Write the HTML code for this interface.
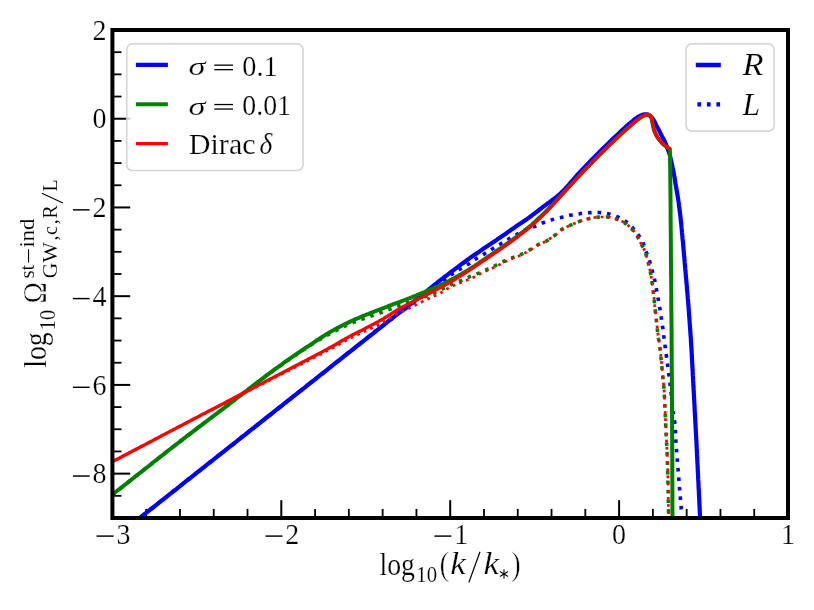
<!DOCTYPE html>
<html><head><meta charset="utf-8"><title>plot</title>
<style>html,body{margin:0;padding:0;background:#fff}svg{display:block}text{font-family:"Liberation Serif",serif;fill:#000;stroke:#fff;stroke-width:0.22px}.s{stroke-width:0.12px}.p{stroke-width:0.6px}.t{filter:grayscale(1)}.om{stroke-width:0.55px}.i{font-style:italic}</style></head><body>
<svg width="814" height="610" viewBox="0 0 814 610">
<rect x="0" y="0" width="814" height="610" fill="#fff"/>
<defs><clipPath id="ax"><rect x="112.4" y="30.0" width="675.6" height="488.0"/></clipPath></defs>
<g stroke="#000"><line x1="112.40" y1="518.00" x2="112.40" y2="500.20" stroke-width="2.00"/><line x1="146.18" y1="518.00" x2="146.18" y2="508.90" stroke-width="1.80"/><line x1="179.96" y1="518.00" x2="179.96" y2="508.90" stroke-width="1.80"/><line x1="213.74" y1="518.00" x2="213.74" y2="508.90" stroke-width="1.80"/><line x1="247.52" y1="518.00" x2="247.52" y2="508.90" stroke-width="1.80"/><line x1="281.30" y1="518.00" x2="281.30" y2="500.20" stroke-width="2.00"/><line x1="315.08" y1="518.00" x2="315.08" y2="508.90" stroke-width="1.80"/><line x1="348.86" y1="518.00" x2="348.86" y2="508.90" stroke-width="1.80"/><line x1="382.64" y1="518.00" x2="382.64" y2="508.90" stroke-width="1.80"/><line x1="416.42" y1="518.00" x2="416.42" y2="508.90" stroke-width="1.80"/><line x1="450.20" y1="518.00" x2="450.20" y2="500.20" stroke-width="2.00"/><line x1="483.98" y1="518.00" x2="483.98" y2="508.90" stroke-width="1.80"/><line x1="517.76" y1="518.00" x2="517.76" y2="508.90" stroke-width="1.80"/><line x1="551.54" y1="518.00" x2="551.54" y2="508.90" stroke-width="1.80"/><line x1="585.32" y1="518.00" x2="585.32" y2="508.90" stroke-width="1.80"/><line x1="619.10" y1="518.00" x2="619.10" y2="500.20" stroke-width="2.00"/><line x1="652.88" y1="518.00" x2="652.88" y2="508.90" stroke-width="1.80"/><line x1="686.66" y1="518.00" x2="686.66" y2="508.90" stroke-width="1.80"/><line x1="720.44" y1="518.00" x2="720.44" y2="508.90" stroke-width="1.80"/><line x1="754.22" y1="518.00" x2="754.22" y2="508.90" stroke-width="1.80"/><line x1="788.00" y1="518.00" x2="788.00" y2="500.20" stroke-width="2.00"/><line x1="112.40" y1="30.00" x2="130.20" y2="30.00" stroke-width="2.00"/><line x1="112.40" y1="52.18" x2="121.50" y2="52.18" stroke-width="1.80"/><line x1="112.40" y1="74.36" x2="121.50" y2="74.36" stroke-width="1.80"/><line x1="112.40" y1="96.55" x2="121.50" y2="96.55" stroke-width="1.80"/><line x1="112.40" y1="118.73" x2="130.20" y2="118.73" stroke-width="2.00"/><line x1="112.40" y1="140.91" x2="121.50" y2="140.91" stroke-width="1.80"/><line x1="112.40" y1="163.09" x2="121.50" y2="163.09" stroke-width="1.80"/><line x1="112.40" y1="185.27" x2="121.50" y2="185.27" stroke-width="1.80"/><line x1="112.40" y1="207.45" x2="130.20" y2="207.45" stroke-width="2.00"/><line x1="112.40" y1="229.64" x2="121.50" y2="229.64" stroke-width="1.80"/><line x1="112.40" y1="251.82" x2="121.50" y2="251.82" stroke-width="1.80"/><line x1="112.40" y1="274.00" x2="121.50" y2="274.00" stroke-width="1.80"/><line x1="112.40" y1="296.18" x2="130.20" y2="296.18" stroke-width="2.00"/><line x1="112.40" y1="318.36" x2="121.50" y2="318.36" stroke-width="1.80"/><line x1="112.40" y1="340.55" x2="121.50" y2="340.55" stroke-width="1.80"/><line x1="112.40" y1="362.73" x2="121.50" y2="362.73" stroke-width="1.80"/><line x1="112.40" y1="384.91" x2="130.20" y2="384.91" stroke-width="2.00"/><line x1="112.40" y1="407.09" x2="121.50" y2="407.09" stroke-width="1.80"/><line x1="112.40" y1="429.27" x2="121.50" y2="429.27" stroke-width="1.80"/><line x1="112.40" y1="451.45" x2="121.50" y2="451.45" stroke-width="1.80"/><line x1="112.40" y1="473.64" x2="130.20" y2="473.64" stroke-width="2.00"/><line x1="112.40" y1="495.82" x2="121.50" y2="495.82" stroke-width="1.80"/><line x1="112.40" y1="518.00" x2="121.50" y2="518.00" stroke-width="1.80"/></g>
<g clip-path="url(#ax)" fill="none" stroke-linejoin="round">
<path d="M120.0 533.5 L122.2 531.8 L124.3 530.1 L126.5 528.4 L128.6 526.7 L130.8 525.0 L132.9 523.3 L135.1 521.6 L137.2 519.9 L139.4 518.2 L141.5 516.5 L143.7 514.8 L145.8 513.1 L148.0 511.4 L150.1 509.7 L152.3 508.0 L154.4 506.3 L156.6 504.6 L158.8 502.9 L160.9 501.2 L163.1 499.5 L165.2 497.8 L167.4 496.1 L169.5 494.4 L171.7 492.7 L173.8 491.0 L176.0 489.3 L178.1 487.6 L180.3 485.9 L182.4 484.1 L184.6 482.4 L186.7 480.7 L188.9 479.0 L191.1 477.3 L193.2 475.6 L195.4 473.9 L197.5 472.2 L199.7 470.5 L201.8 468.8 L204.0 467.1 L206.1 465.4 L208.3 463.7 L210.4 462.0 L212.6 460.3 L214.7 458.6 L216.9 456.9 L219.0 455.2 L221.2 453.5 L223.3 451.8 L225.5 450.1 L227.7 448.4 L229.8 446.7 L232.0 445.0 L234.1 443.3 L236.3 441.6 L238.4 439.9 L240.6 438.2 L242.7 436.5 L244.9 434.8 L247.0 433.1 L249.2 431.4 L251.3 429.7 L253.5 428.0 L255.6 426.3 L257.8 424.5 L260.0 422.8 L262.1 421.1 L264.3 419.4 L266.4 417.7 L268.6 416.0 L270.7 414.3 L272.9 412.6 L275.0 410.9 L277.2 409.2 L279.3 407.5 L281.5 405.8 L283.6 404.1 L285.8 402.4 L287.9 400.7 L290.1 399.0 L292.2 397.3 L294.4 395.6 L296.6 393.9 L298.7 392.2 L300.9 390.5 L303.0 388.8 L305.2 387.1 L307.3 385.4 L309.5 383.7 L311.6 382.0 L313.8 380.3 L315.9 378.6 L318.1 376.9 L320.2 375.2 L322.4 373.5 L324.5 371.8 L326.7 370.1 L328.8 368.3 L331.0 366.6 L333.2 364.9 L335.3 363.2 L337.5 361.5 L339.6 359.8 L341.8 358.1 L343.9 356.4 L346.1 354.7 L348.2 353.0 L350.4 351.3 L352.5 349.6 L354.7 347.9 L356.8 346.2 L359.0 344.5 L361.1 342.8 L363.3 341.1 L365.5 339.4 L367.6 337.7 L369.8 336.0 L371.9 334.3 L374.1 332.6 L376.2 330.9 L378.4 329.2 L380.5 327.5 L382.7 325.8 L384.8 324.1 L387.0 322.4 L389.1 320.7 L391.3 319.0 L393.4 317.3 L395.6 315.6 L397.8 313.9 L400.0 312.2 L402.2 310.6 L404.4 308.9 L406.5 307.3 L408.7 305.6 L410.9 303.9 L413.0 302.2 L415.2 300.5 L417.3 298.8 L419.5 297.1 L421.6 295.4 L423.8 293.6 L425.9 291.9 L428.0 290.2 L430.1 288.5 L432.3 286.7 L434.4 285.0 L436.5 283.3 L438.7 281.5 L440.8 279.8 L443.0 278.2 L445.2 276.5 L447.4 274.8 L449.5 273.2 L451.7 271.5 L453.9 269.9 L456.1 268.2 L458.3 266.6 L460.5 264.9 L462.7 263.3 L464.9 261.7 L467.2 260.0 L469.4 258.4 L471.6 256.8 L473.9 255.3 L476.1 253.7 L478.4 252.2 L480.7 250.6 L482.9 249.1 L485.2 247.5 L487.5 246.0 L489.8 244.5 L492.0 242.9 L494.3 241.4 L496.6 239.9 L498.9 238.3 L501.1 236.8 L503.4 235.2 L505.7 233.7 L507.9 232.1 L510.2 230.5 L512.4 228.9 L514.7 227.4 L516.9 225.8 L519.2 224.3 L521.5 222.8 L523.8 221.2 L526.0 219.7 L528.3 218.1 L530.5 216.5 L532.7 214.8 L534.9 213.2 L537.1 211.5 L539.2 209.8 L541.4 208.2 L543.6 206.5 L545.8 204.9 L548.0 203.3 L550.3 201.7 L552.4 200.0 L554.6 198.3 L556.8 196.6 L558.9 194.8 L560.9 193.0 L562.9 191.1 L564.8 189.1 L566.6 187.1 L568.5 185.1 L570.3 183.0 L572.1 181.0 L573.9 178.9 L575.7 176.8 L577.5 174.7 L579.4 172.7 L581.3 170.7 L583.2 168.7 L585.1 166.7 L587.0 164.7 L588.9 162.8 L590.8 160.8 L592.7 158.8 L594.6 156.9 L596.5 154.9 L598.5 153.0 L600.4 151.0 L602.4 149.1 L604.3 147.2 L606.3 145.3 L608.3 143.4 L610.2 141.4 L612.2 139.5 L614.2 137.6 L616.2 135.8 L618.2 133.9 L620.2 132.0 L622.2 130.1 L624.2 128.3 L626.3 126.4 L628.3 124.6 L630.4 122.9 L632.6 121.0 L634.7 119.2 L636.9 117.6 L639.2 116.2 L641.7 115.1 L644.4 114.3 L647.1 114.3 L649.7 115.5 L651.6 117.2 L653.2 119.2 L654.6 121.7 L655.8 124.3 L657.1 126.9 L658.4 129.3 L659.7 131.8 L660.9 134.2 L662.2 136.7 L663.5 139.0 L664.8 141.5 L665.9 144.0 L666.8 146.6 L667.8 149.2 L668.7 151.7 L669.6 154.3 L670.3 157.0 L670.9 159.7 L671.5 162.4 L672.1 165.0 L672.6 167.7 L673.2 170.4 L673.7 173.1 L674.2 175.8 L674.7 178.5 L675.1 181.2 L675.5 183.9 L676.0 186.6 L676.5 189.3 L676.9 192.0 L677.4 194.7 L677.9 197.5 L678.3 200.2 L678.7 202.9 L679.0 205.6 L679.4 208.3 L679.7 211.1 L680.1 213.8 L680.4 216.5 L680.7 219.2 L681.0 222.0 L681.3 224.7 L681.5 227.4 L681.8 230.2 L682.0 232.9 L682.3 235.6 L682.5 238.4 L682.8 241.1 L683.1 243.8 L683.3 246.6 L683.5 249.3 L683.8 252.0 L684.0 254.8 L684.3 257.5 L684.5 260.2 L684.7 263.0 L685.0 265.7 L685.2 268.4 L685.5 271.2 L685.7 273.9 L685.9 276.6 L686.2 279.4 L686.4 282.1 L686.7 284.8 L686.9 287.6 L687.1 290.3 L687.4 293.0 L687.6 295.8 L687.8 298.5 L688.1 301.3 L688.3 304.0 L688.5 306.7 L688.7 309.5 L688.9 312.2 L689.1 314.9 L689.3 317.7 L689.5 320.4 L689.7 323.1 L689.9 325.9 L690.1 328.6 L690.3 331.4 L690.5 334.1 L690.7 336.8 L690.9 339.6 L691.0 342.3 L691.2 345.1 L691.4 347.8 L691.5 350.5 L691.7 353.3 L691.8 356.0 L692.0 358.8 L692.1 361.5 L692.3 364.2 L692.4 367.0 L692.6 369.7 L692.7 372.5 L692.8 375.2 L693.0 378.0 L693.1 380.7 L693.3 383.4 L693.4 386.2 L693.6 388.9 L693.7 391.7 L693.9 394.4 L694.0 397.1 L694.2 399.9 L694.3 402.6 L694.5 405.4 L694.6 408.1 L694.7 410.8 L694.9 413.6 L695.0 416.3 L695.2 419.1 L695.3 421.8 L695.5 424.6 L695.6 427.3 L695.8 430.0 L695.9 432.8 L696.1 435.5 L696.2 438.3 L696.4 441.0 L696.5 443.7 L696.6 446.5 L696.8 449.2 L696.9 452.0 L697.0 454.7 L697.2 457.5 L697.3 460.2 L697.4 462.9 L697.6 465.7 L697.7 468.4 L697.8 471.2 L698.0 473.9 L698.1 476.6 L698.2 479.4 L698.4 482.1 L698.5 484.9 L698.6 487.6 L698.8 490.4 L698.9 493.1 L699.0 495.8 L699.2 498.6 L699.3 501.3 L699.4 504.1 L699.6 506.8 L699.7 509.5 L699.8 512.3 L700.0 515.0 L700.1 517.8 L700.2 520.5 L700.4 523.3 L700.5 526.0" stroke="#0000ff" stroke-width="4.20"/>
<path d="M120.0 533.5 L121.8 532.1 L123.6 530.7 L125.4 529.3 L127.2 527.9 L129.0 526.4 L130.8 525.0 L132.6 523.6 L134.4 522.2 L136.2 520.8 L138.0 519.3 L139.7 517.9 L141.5 516.5 L143.3 515.1 L145.1 513.7 L146.9 512.2 L148.7 510.8 L150.5 509.4 L152.3 508.0 L154.1 506.6 L155.9 505.1 L157.7 503.7 L159.5 502.3 L161.3 500.9 L163.1 499.5 L164.9 498.0 L166.7 496.6 L168.5 495.2 L170.3 493.8 L172.1 492.4 L173.9 490.9 L175.6 489.5 L177.4 488.1 L179.2 486.7 L181.0 485.3 L182.8 483.8 L184.6 482.4 L186.4 481.0 L188.2 479.6 L190.0 478.2 L191.8 476.7 L193.6 475.3 L195.4 473.9 L197.2 472.5 L199.0 471.1 L200.8 469.6 L202.6 468.2 L204.4 466.8 L206.2 465.4 L208.0 464.0 L209.8 462.5 L211.6 461.1 L213.3 459.7 L215.1 458.3 L216.9 456.9 L218.7 455.4 L220.5 454.0 L222.3 452.6 L224.1 451.2 L225.9 449.8 L227.7 448.3 L229.5 446.9 L231.3 445.5 L233.1 444.1 L234.9 442.7 L236.7 441.2 L238.5 439.8 L240.3 438.4 L242.1 437.0 L243.9 435.6 L245.7 434.1 L247.5 432.7 L249.2 431.3 L251.0 429.9 L252.8 428.5 L254.6 427.0 L256.4 425.6 L258.2 424.2 L260.0 422.8 L261.8 421.4 L263.6 420.0 L265.4 418.5 L267.2 417.1 L269.0 415.7 L270.8 414.3 L272.6 412.9 L274.4 411.4 L276.2 410.0 L278.0 408.6 L279.8 407.2 L281.6 405.8 L283.4 404.3 L285.2 402.9 L286.9 401.5 L288.7 400.1 L290.5 398.7 L292.3 397.2 L294.1 395.8 L295.9 394.4 L297.7 393.0 L299.5 391.6 L301.3 390.1 L303.1 388.7 L304.9 387.3 L306.7 385.9 L308.5 384.5 L310.3 383.0 L312.1 381.6 L313.9 380.2 L315.7 378.8 L317.5 377.4 L319.3 375.9 L321.1 374.5 L322.8 373.1 L324.6 371.7 L326.4 370.3 L328.2 368.8 L330.0 367.4 L331.8 366.0 L333.6 364.6 L335.4 363.2 L337.2 361.7 L339.0 360.3 L340.8 358.9 L342.6 357.5 L344.4 356.1 L346.2 354.6 L348.0 353.2 L349.8 351.8 L351.6 350.4 L353.4 349.0 L355.2 347.5 L357.0 346.1 L358.7 344.7 L360.5 343.3 L362.3 341.9 L364.1 340.4 L365.9 339.0 L367.7 337.6 L369.5 336.2 L371.3 334.8 L373.1 333.3 L374.9 331.9 L376.7 330.5 L378.5 329.1 L380.3 327.7 L382.1 326.2 L383.9 324.8 L385.7 323.4 L387.4 321.9 L389.2 320.5 L391.0 319.1 L392.8 317.7 L394.7 316.3 L396.5 315.0 L398.4 313.6 L400.2 312.3 L402.1 311.0 L404.0 309.7 L405.9 308.4 L407.7 307.1 L409.6 305.7 L411.4 304.4 L413.3 303.0 L415.1 301.7 L417.0 300.3 L418.8 298.9 L420.6 297.5 L422.5 296.2 L424.3 294.8 L426.1 293.4 L428.0 292.1 L429.8 290.7 L431.6 289.3 L433.4 287.9 L435.3 286.5 L437.1 285.2 L438.9 283.8 L440.8 282.4 L442.6 281.1 L444.4 279.7 L446.3 278.3 L448.1 277.0 L450.0 275.6 L451.9 274.3 L453.8 273.1 L455.7 271.8 L457.6 270.6 L459.6 269.5 L461.6 268.3 L463.5 267.1 L465.5 265.9 L467.4 264.7 L469.4 263.5 L471.3 262.2 L473.1 260.9 L475.0 259.6 L476.9 258.3 L478.9 257.1 L480.8 255.9 L482.8 254.8 L484.8 253.6 L486.7 252.4 L488.7 251.2 L490.6 250.0 L492.6 248.8 L494.5 247.6 L496.5 246.4 L498.4 245.2 L500.4 244.0 L502.3 242.8 L504.3 241.6 L506.2 240.4 L508.2 239.3 L510.2 238.1 L512.2 237.0 L514.2 235.9 L516.2 234.8 L518.2 233.7 L520.2 232.5 L522.2 231.4 L524.2 230.4 L526.3 229.5 L528.4 228.7 L530.6 227.9 L532.8 227.2 L534.9 226.4 L537.0 225.4 L539.1 224.5 L541.2 223.6 L543.3 222.7 L545.4 221.9 L547.6 221.1 L549.8 220.4 L552.0 219.7 L554.2 219.1 L556.4 218.6 L558.6 218.0 L560.8 217.5 L563.1 216.9 L565.3 216.4 L567.5 215.8 L569.7 215.3 L572.0 214.9 L574.2 214.5 L576.5 214.2 L578.8 213.9 L581.0 213.5 L583.3 213.2 L585.6 212.9 L587.9 212.7 L590.1 212.6 L592.4 212.6 L594.7 212.5 L597.0 212.5 L599.3 212.5 L601.6 212.7 L603.9 213.0 L606.1 213.4 L608.4 213.8 L610.6 214.4 L612.8 215.1 L614.9 215.8 L617.1 216.7 L619.2 217.6 L621.2 218.7 L623.2 219.8 L625.1 221.0 L626.9 222.4 L628.7 223.9 L630.3 225.5 L631.9 227.1 L633.5 228.8 L635.0 230.6 L636.4 232.4 L637.8 234.2 L639.1 236.1 L640.4 238.0 L641.6 239.9 L642.7 241.9 L643.5 244.0 L644.2 246.2 L644.9 248.4 L645.7 250.6 L646.5 252.7 L647.3 254.9 L648.2 257.0 L648.9 259.1 L649.6 261.3 L650.2 263.5 L650.8 265.7 L651.4 268.0 L652.1 270.2 L652.7 272.4 L653.3 274.6 L653.9 276.8 L654.4 279.0 L654.9 281.2 L655.4 283.5 L655.8 285.7 L656.2 288.0 L656.6 290.2 L657.0 292.5 L657.4 294.7 L657.8 297.0 L658.2 299.2 L658.6 301.5 L659.0 303.8 L659.4 306.0 L659.8 308.3 L660.2 310.5 L660.6 312.8 L660.9 315.0 L661.2 317.3 L661.6 319.6 L661.9 321.8 L662.2 324.1 L662.5 326.4 L662.9 328.6 L663.2 330.9 L663.5 333.2 L663.7 335.4 L664.0 337.7 L664.3 340.0 L664.6 342.3 L664.9 344.5 L665.2 346.8 L665.5 349.1 L665.8 351.3 L666.1 353.6 L666.4 355.9 L666.7 358.1 L667.0 360.4 L667.3 362.7 L667.6 364.9 L667.9 367.2 L668.2 369.5 L668.5 371.7 L668.8 374.0 L669.1 376.3 L669.4 378.6 L669.7 380.8 L670.0 383.1 L670.2 385.4 L670.5 387.6 L670.8 389.9 L671.0 392.2 L671.3 394.5 L671.5 396.7 L671.8 399.0 L672.0 401.3 L672.3 403.6 L672.5 405.8 L672.8 408.1 L673.0 410.4 L673.3 412.7 L673.7 414.9 L674.0 417.2 L674.3 419.5 L674.6 421.7 L674.9 424.0 L675.1 426.3 L675.2 428.6 L675.4 430.8 L675.5 433.1 L675.6 435.4 L675.7 437.7 L675.8 440.0 L675.9 442.3 L676.1 444.6 L676.2 446.8 L676.4 449.1 L676.6 451.4 L676.8 453.7 L677.0 456.0 L677.2 458.3 L677.3 460.5 L677.5 462.8 L677.7 465.1 L677.9 467.4 L678.1 469.7 L678.3 471.9 L678.4 474.2 L678.6 476.5 L678.8 478.8 L679.0 481.1 L679.2 483.3 L679.4 485.6 L679.5 487.9 L679.7 490.2 L679.9 492.5 L680.1 494.8 L680.3 497.0 L680.5 499.3 L680.7 501.6 L680.9 503.9 L681.1 506.2 L681.2 508.4 L681.4 510.7 L681.6 513.0" stroke="#0000ff" stroke-width="3.60" stroke-dasharray="3.60 5.94"/>
<path d="M112.4 494.6 L113.8 493.5 L115.2 492.4 L116.6 491.3 L118.0 490.2 L119.4 489.2 L120.7 488.1 L122.1 487.0 L123.5 485.9 L124.9 484.8 L126.3 483.7 L127.7 482.6 L129.1 481.5 L130.5 480.4 L131.9 479.3 L133.2 478.2 L134.6 477.1 L136.0 476.0 L137.4 474.9 L138.8 473.8 L140.2 472.7 L141.6 471.6 L142.9 470.5 L144.3 469.5 L145.7 468.4 L147.1 467.3 L148.5 466.2 L149.9 465.1 L151.3 464.0 L152.6 462.9 L154.0 461.8 L155.4 460.7 L156.8 459.6 L158.2 458.5 L159.6 457.4 L161.0 456.3 L162.4 455.2 L163.8 454.1 L165.1 453.0 L166.5 452.0 L167.9 450.9 L169.3 449.8 L170.7 448.7 L172.1 447.6 L173.5 446.5 L174.9 445.4 L176.3 444.4 L177.7 443.3 L179.1 442.2 L180.5 441.1 L181.9 440.0 L183.3 439.0 L184.7 437.9 L186.1 436.8 L187.5 435.7 L188.9 434.7 L190.3 433.6 L191.7 432.5 L193.1 431.5 L194.5 430.4 L195.9 429.3 L197.3 428.2 L198.7 427.2 L200.2 426.1 L201.6 425.0 L203.0 424.0 L204.4 422.9 L205.8 421.8 L207.2 420.8 L208.6 419.7 L210.0 418.7 L211.4 417.6 L212.8 416.5 L214.3 415.5 L215.7 414.4 L217.1 413.3 L218.5 412.3 L219.9 411.2 L221.3 410.1 L222.7 409.1 L224.1 408.0 L225.5 406.9 L226.9 405.8 L228.3 404.8 L229.7 403.7 L231.1 402.6 L232.5 401.6 L233.9 400.5 L235.3 399.4 L236.7 398.3 L238.1 397.2 L239.5 396.2 L240.9 395.1 L242.3 394.0 L243.7 392.9 L245.1 391.8 L246.5 390.8 L247.9 389.7 L249.3 388.6 L250.7 387.5 L252.1 386.4 L253.5 385.4 L254.9 384.3 L256.3 383.2 L257.7 382.1 L259.1 381.1 L260.5 380.0 L262.0 378.9 L263.4 377.9 L264.8 376.8 L266.2 375.7 L267.6 374.7 L269.0 373.6 L270.4 372.6 L271.9 371.5 L273.3 370.5 L274.7 369.4 L276.1 368.4 L277.6 367.4 L279.0 366.3 L280.4 365.3 L281.9 364.3 L283.3 363.2 L284.7 362.2 L286.2 361.2 L287.6 360.2 L289.1 359.1 L290.5 358.1 L292.0 357.1 L293.4 356.1 L294.9 355.1 L296.3 354.1 L297.8 353.1 L299.3 352.1 L300.7 351.2 L302.2 350.2 L303.7 349.2 L305.1 348.2 L306.6 347.2 L308.1 346.3 L309.6 345.3 L311.0 344.3 L312.5 343.3 L314.0 342.3 L315.4 341.3 L316.9 340.3 L318.4 339.4 L319.8 338.4 L321.3 337.5 L322.8 336.5 L324.3 335.6 L325.8 334.6 L327.3 333.7 L328.9 332.8 L330.4 331.9 L331.9 331.0 L333.4 330.2 L335.0 329.3 L336.5 328.5 L338.1 327.6 L339.7 326.8 L341.2 326.0 L342.8 325.2 L344.4 324.4 L346.0 323.7 L347.6 322.9 L349.2 322.1 L350.8 321.4 L352.4 320.7 L354.0 319.9 L355.6 319.2 L357.2 318.5 L358.9 317.8 L360.5 317.1 L362.1 316.4 L363.7 315.7 L365.4 315.1 L367.0 314.4 L368.7 313.8 L370.3 313.1 L372.0 312.5 L373.6 311.8 L375.3 311.2 L376.9 310.6 L378.6 310.0 L380.2 309.3 L381.9 308.7 L383.5 308.0 L385.2 307.4 L386.8 306.8 L388.4 306.1 L390.1 305.5 L391.7 304.9 L393.4 304.2 L395.1 303.6 L396.7 303.0 L398.4 302.4 L400.0 301.8 L401.7 301.1 L403.3 300.5 L405.0 299.9 L406.6 299.3 L408.3 298.7 L409.9 298.0 L411.6 297.4 L413.2 296.7 L414.9 296.0 L416.5 295.4 L418.1 294.7 L419.8 294.0 L421.4 293.3 L423.0 292.6 L424.6 292.0 L426.3 291.3 L427.9 290.6 L429.5 289.9 L431.2 289.2 L432.8 288.6 L434.4 287.9 L436.0 287.2 L437.7 286.5 L439.3 285.7 L440.9 285.0 L442.5 284.2 L444.1 283.5 L445.7 282.7 L447.2 281.9 L448.8 281.1 L450.4 280.2 L451.9 279.4 L453.5 278.6 L455.0 277.7 L456.6 276.8 L458.1 276.0 L459.6 275.1 L461.2 274.2 L462.7 273.3 L464.2 272.4 L465.7 271.5 L467.2 270.6 L468.7 269.6 L470.2 268.7 L471.7 267.8 L473.2 266.8 L474.7 265.8 L476.1 264.8 L477.6 263.9 L479.1 262.9 L480.5 261.9 L482.0 260.9 L483.4 259.9 L484.9 258.9 L486.4 257.9 L487.8 256.9 L489.3 255.9 L490.8 254.9 L492.2 253.9 L493.7 252.9 L495.1 251.9 L496.6 250.9 L498.1 249.9 L499.5 248.9 L501.0 247.9 L502.4 246.9 L503.9 245.9 L505.3 244.9 L506.7 243.9 L508.2 242.8 L509.6 241.8 L511.1 240.8 L512.5 239.8 L513.9 238.7 L515.4 237.7 L516.8 236.6 L518.2 235.5 L519.6 234.5 L521.0 233.4 L522.4 232.3 L523.8 231.2 L525.2 230.1 L526.5 229.0 L527.9 227.9 L529.3 226.8 L530.6 225.7 L532.0 224.5 L533.3 223.3 L534.6 222.1 L535.9 220.9 L537.2 219.7 L538.5 218.5 L539.8 217.3 L541.1 216.1 L542.3 214.9 L543.6 213.7 L544.9 212.4 L546.2 211.2 L547.4 210.0 L548.7 208.7 L549.9 207.5 L551.1 206.2 L552.3 204.9 L553.6 203.6 L554.8 202.3 L556.0 201.0 L557.2 199.7 L558.4 198.4 L559.5 197.1 L560.7 195.8 L561.9 194.5 L563.1 193.2 L564.3 191.9 L565.5 190.6 L566.7 189.3 L567.9 188.0 L569.1 186.7 L570.3 185.4 L571.5 184.1 L572.7 182.8 L573.9 181.5 L575.1 180.2 L576.3 178.9 L577.5 177.6 L578.7 176.3 L579.9 175.1 L581.1 173.8 L582.4 172.5 L583.6 171.2 L584.8 169.9 L586.0 168.7 L587.2 167.4 L588.5 166.1 L589.7 164.8 L590.9 163.6 L592.2 162.3 L593.4 161.0 L594.6 159.8 L595.9 158.5 L597.1 157.3 L598.4 156.0 L599.6 154.8 L600.9 153.5 L602.1 152.3 L603.4 151.0 L604.6 149.8 L605.9 148.6 L607.2 147.3 L608.4 146.1 L609.7 144.9 L611.0 143.6 L612.2 142.4 L613.5 141.2 L614.8 140.0 L616.1 138.8 L617.4 137.5 L618.7 136.3 L620.0 135.1 L621.3 133.9 L622.6 132.7 L623.9 131.6 L625.2 130.4 L626.5 129.2 L627.8 128.0 L629.2 126.9 L630.5 125.7 L631.8 124.5 L633.2 123.4 L634.5 122.2 L635.9 121.1 L637.3 120.0 L638.7 118.9 L640.1 117.9 L641.6 116.9 L643.1 116.0 L644.7 115.3 L646.4 114.7 L648.1 114.6 L649.7 115.2 L650.8 116.7 L651.5 118.3 L651.9 120.0 L652.2 121.8 L652.6 123.5 L652.9 125.3 L653.3 127.0 L653.7 128.7 L654.2 130.4 L654.8 132.1 L655.5 133.7 L656.3 135.3 L657.1 136.8 L658.1 138.3 L659.2 139.7 L660.3 141.1 L661.4 142.4 L662.7 143.7 L664.0 144.9 L665.4 146.0 L666.8 147.0 L668.3 148.0 L669.8 148.9 L669.9 150.0 L670.0 159.6 L670.2 169.3 L670.3 178.9 L670.4 188.6 L670.5 198.2 L670.6 207.8 L670.6 217.5 L670.7 227.1 L670.8 236.8 L670.9 246.4 L670.9 256.0 L671.0 265.7 L671.1 275.3 L671.2 285.0 L671.3 294.6 L671.3 304.3 L671.4 313.9 L671.5 323.5 L671.6 333.2 L671.6 342.8 L671.7 352.5 L671.7 362.1 L671.8 371.7 L671.9 381.4 L671.9 391.0 L672.0 400.7 L672.0 410.3 L672.1 419.9 L672.1 429.6 L672.2 439.2 L672.2 448.9 L672.3 458.5 L672.3 468.2 L672.3 477.8 L672.4 487.4 L672.4 497.1 L672.4 506.7 L672.5 516.4 L672.5 526.0" stroke="#008000" stroke-width="4.00" stroke-linejoin="miter"/>
<path d="M112.4 494.6 L114.2 493.2 L116.0 491.8 L117.7 490.4 L119.5 489.0 L121.3 487.6 L123.1 486.2 L124.9 484.8 L126.6 483.4 L128.4 482.0 L130.2 480.6 L132.0 479.2 L133.7 477.8 L135.5 476.4 L137.3 475.0 L139.0 473.6 L140.8 472.2 L142.6 470.8 L144.4 469.4 L146.1 468.0 L147.9 466.6 L149.7 465.2 L151.5 463.8 L153.2 462.4 L155.0 461.0 L156.8 459.6 L158.6 458.2 L160.3 456.8 L162.1 455.4 L163.9 454.0 L165.7 452.6 L167.4 451.2 L169.2 449.9 L171.0 448.5 L172.8 447.1 L174.6 445.7 L176.4 444.3 L178.1 442.9 L179.9 441.5 L181.7 440.2 L183.5 438.8 L185.3 437.4 L187.1 436.0 L188.9 434.7 L190.7 433.3 L192.5 431.9 L194.3 430.6 L196.1 429.2 L197.9 427.8 L199.7 426.5 L201.5 425.1 L203.3 423.7 L205.1 422.4 L206.9 421.0 L208.7 419.6 L210.5 418.3 L212.3 416.9 L214.1 415.5 L215.9 414.2 L217.7 412.8 L219.5 411.4 L221.3 410.1 L223.1 408.7 L224.9 407.4 L226.7 406.0 L228.5 404.6 L230.3 403.3 L232.1 401.9 L233.9 400.5 L235.7 399.1 L237.5 397.8 L239.3 396.4 L241.1 395.0 L242.9 393.6 L244.7 392.2 L246.5 390.9 L248.3 389.5 L250.0 388.1 L251.8 386.7 L253.6 385.4 L255.4 384.0 L257.2 382.6 L259.0 381.3 L260.8 379.9 L262.6 378.5 L264.5 377.2 L266.3 375.8 L268.1 374.5 L269.9 373.2 L271.7 371.8 L273.6 370.5 L275.4 369.2 L277.2 367.9 L279.1 366.6 L280.9 365.3 L282.8 364.0 L284.6 362.7 L286.5 361.4 L288.4 360.1 L290.2 358.8 L292.1 357.6 L294.0 356.3 L295.8 355.0 L297.7 353.7 L299.6 352.5 L301.5 351.2 L303.3 349.9 L305.2 348.7 L307.1 347.4 L309.0 346.2 L310.9 345.0 L312.8 343.8 L314.7 342.6 L316.6 341.4 L318.6 340.2 L320.5 339.1 L322.5 338.0 L324.4 336.8 L326.4 335.7 L328.4 334.6 L330.4 333.5 L332.4 332.5 L334.4 331.4 L336.4 330.3 L338.4 329.3 L340.4 328.3 L342.5 327.3 L344.5 326.3 L346.6 325.4 L348.6 324.5 L350.7 323.6 L352.8 322.7 L354.8 321.9 L357.0 321.1 L359.1 320.3 L361.2 319.5 L363.3 318.8 L365.5 318.0 L367.6 317.3 L369.7 316.6 L371.9 315.8 L374.0 315.1 L376.2 314.3 L378.3 313.6 L380.4 312.8 L382.5 312.0 L384.7 311.2 L386.8 310.4 L388.9 309.6 L391.0 308.8 L393.1 307.9 L395.2 307.1 L397.3 306.3 L399.4 305.5 L401.5 304.7 L403.7 303.9 L405.8 303.1 L407.9 302.4 L410.0 301.6 L412.2 300.9 L414.3 300.2 L416.5 299.5 L418.6 298.8 L420.8 298.1 L422.9 297.4 L425.1 296.7 L427.2 295.9 L429.3 295.1 L431.4 294.2 L433.5 293.3 L435.5 292.4 L437.6 291.5 L439.6 290.5 L441.6 289.4 L443.6 288.4 L445.6 287.3 L447.6 286.3 L449.7 285.3 L451.7 284.3 L453.8 283.4 L455.9 282.6 L458.0 281.8 L460.1 281.0 L462.2 280.2 L464.3 279.2 L466.3 278.3 L468.4 277.4 L470.4 276.4 L472.5 275.6 L474.6 274.7 L476.7 273.9 L478.8 273.1 L480.9 272.2 L483.0 271.3 L485.0 270.3 L487.1 269.4 L489.1 268.5 L491.2 267.5 L493.2 266.6 L495.3 265.6 L497.3 264.6 L499.3 263.6 L501.3 262.5 L503.4 261.5 L505.4 260.5 L507.4 259.6 L509.5 258.7 L511.6 257.9 L513.8 257.2 L515.9 256.4 L518.0 255.6 L520.1 254.8 L522.2 253.9 L524.2 252.9 L526.2 251.8 L528.2 250.7 L530.2 249.6 L532.1 248.4 L534.0 247.2 L535.9 246.0 L537.9 244.9 L539.9 243.9 L542.0 243.1 L544.1 242.2 L546.2 241.3 L548.0 240.0 L549.8 238.6 L551.7 237.4 L553.6 236.2 L555.4 234.8 L557.1 233.3 L558.8 231.7 L560.5 230.3 L562.4 229.1 L564.4 228.0 L566.5 227.1 L568.5 226.1 L570.6 225.2 L572.7 224.3 L574.7 223.4 L576.8 222.4 L578.9 221.6 L581.0 220.8 L583.1 220.1 L585.3 219.5 L587.5 218.9 L589.7 218.4 L591.9 217.9 L594.2 217.5 L596.4 217.3 L598.7 217.1 L600.9 217.0 L603.2 217.0 L605.4 217.0 L607.7 217.0 L609.9 217.4 L612.1 217.9 L614.3 218.5 L616.5 219.1 L618.7 219.9 L620.7 220.8 L622.7 221.7 L624.7 222.9 L626.6 224.2 L628.3 225.6 L630.0 227.1 L631.6 228.7 L633.1 230.4 L634.6 232.2 L635.9 234.0 L637.1 235.9 L638.2 237.9 L639.2 239.9 L640.1 242.0 L641.2 244.0 L642.2 246.0 L643.3 248.0 L644.3 250.0 L645.1 252.1 L645.9 254.2 L646.5 256.4 L647.2 258.6 L647.8 260.8 L648.3 263.0 L648.9 265.2 L649.4 267.4 L649.9 269.6 L650.3 271.8 L650.7 274.0 L651.1 276.2 L651.5 278.5 L651.8 280.7 L652.1 282.9 L652.4 285.2 L652.7 287.4 L653.0 289.7 L653.3 291.9 L653.6 294.1 L653.9 296.4 L654.1 298.6 L654.3 300.9 L654.5 303.1 L654.7 305.4 L654.9 307.6 L655.2 309.9 L655.4 312.1 L655.7 314.4 L655.9 316.6 L656.2 318.9 L656.5 321.1 L656.7 323.4 L657.0 325.6 L657.2 327.9 L657.4 330.1 L657.7 332.3 L657.9 334.6 L658.3 336.8 L658.6 339.1 L659.0 341.3 L659.4 343.5 L659.7 345.8 L660.0 348.0 L660.2 350.2 L660.4 352.5 L660.7 354.7 L660.9 357.0 L661.1 359.2 L661.3 361.5 L661.6 363.7 L661.8 366.0 L662.0 368.2 L662.2 370.5 L662.5 372.7 L662.7 375.0 L662.9 377.2 L663.1 379.5 L663.3 381.7 L663.5 384.0 L663.7 386.2 L663.9 388.5 L664.0 390.7 L664.2 393.0 L664.3 395.3 L664.5 397.5 L664.6 399.8 L664.7 402.0 L664.8 404.3 L664.9 406.5 L665.0 408.8 L665.1 411.1 L665.2 413.3 L665.3 415.6 L665.4 417.8 L665.5 420.1 L665.6 422.4 L665.7 424.6 L665.7 426.9 L665.9 429.1 L666.0 431.4 L666.1 433.6 L666.2 435.9 L666.4 438.2 L666.5 440.4 L666.6 442.7 L666.7 444.9 L666.9 447.2 L667.0 449.4 L667.0 451.7 L667.1 454.0 L667.2 456.2 L667.3 458.5 L667.4 460.7 L667.4 463.0 L667.5 465.2 L667.6 467.5 L667.7 469.8 L667.7 472.0 L667.8 474.3 L667.8 476.5 L667.9 478.8 L667.9 481.1 L668.0 483.3 L668.0 485.6 L668.1 487.8 L668.1 490.1 L668.2 492.4 L668.2 494.6 L668.2 496.9 L668.3 499.1 L668.3 501.4 L668.3 503.7 L668.4 505.9 L668.4 508.2 L668.5 510.4 L668.5 512.7 L668.5 515.0 L668.6 517.2 L668.6 519.5 L668.7 521.7 L668.7 524.0" stroke="#008000" stroke-width="3.60" stroke-dasharray="3.60 5.94"/>
<path d="M112.4 461.7 L113.9 460.9 L115.4 460.1 L117.0 459.3 L118.5 458.5 L120.0 457.7 L121.5 456.9 L123.1 456.1 L124.6 455.3 L126.1 454.5 L127.6 453.7 L129.1 452.9 L130.7 452.1 L132.2 451.3 L133.7 450.5 L135.2 449.7 L136.7 448.9 L138.3 448.1 L139.8 447.3 L141.3 446.5 L142.8 445.7 L144.4 444.9 L145.9 444.1 L147.4 443.3 L148.9 442.5 L150.4 441.7 L152.0 440.9 L153.5 440.1 L155.0 439.3 L156.5 438.5 L158.1 437.7 L159.6 436.9 L161.1 436.1 L162.6 435.3 L164.2 434.5 L165.7 433.7 L167.2 432.9 L168.7 432.1 L170.2 431.3 L171.8 430.5 L173.3 429.7 L174.8 428.9 L176.3 428.1 L177.9 427.3 L179.4 426.5 L180.9 425.7 L182.4 424.9 L183.9 424.1 L185.5 423.3 L187.0 422.5 L188.5 421.7 L190.0 420.9 L191.6 420.1 L193.1 419.3 L194.6 418.5 L196.1 417.7 L197.7 416.9 L199.2 416.1 L200.7 415.3 L202.2 414.5 L203.7 413.7 L205.3 412.9 L206.8 412.1 L208.3 411.3 L209.8 410.5 L211.4 409.7 L212.9 408.9 L214.4 408.2 L215.9 407.4 L217.5 406.6 L219.0 405.8 L220.5 405.0 L222.0 404.2 L223.6 403.4 L225.1 402.6 L226.6 401.8 L228.1 401.0 L229.7 400.2 L231.2 399.4 L232.7 398.6 L234.2 397.8 L235.8 397.0 L237.3 396.2 L238.8 395.4 L240.3 394.6 L241.9 393.8 L243.4 393.0 L244.9 392.3 L246.4 391.5 L248.0 390.7 L249.5 389.9 L251.0 389.1 L252.5 388.3 L254.1 387.5 L255.6 386.7 L257.1 385.9 L258.6 385.1 L260.2 384.3 L261.7 383.5 L263.2 382.7 L264.7 381.9 L266.3 381.1 L267.8 380.3 L269.3 379.5 L270.8 378.7 L272.4 377.9 L273.9 377.1 L275.4 376.3 L276.9 375.6 L278.5 374.8 L280.0 374.0 L281.5 373.2 L283.0 372.4 L284.6 371.6 L286.1 370.8 L287.6 370.0 L289.1 369.2 L290.6 368.4 L292.2 367.6 L293.7 366.8 L295.2 366.0 L296.7 365.2 L298.3 364.4 L299.8 363.6 L301.3 362.8 L302.8 362.0 L304.4 361.2 L305.9 360.4 L307.4 359.6 L308.9 358.8 L310.5 358.0 L312.0 357.2 L313.5 356.4 L315.0 355.6 L316.5 354.8 L318.1 354.0 L319.6 353.2 L321.1 352.4 L322.6 351.6 L324.1 350.8 L325.7 350.0 L327.2 349.1 L328.7 348.3 L330.2 347.5 L331.7 346.7 L333.2 345.8 L334.7 345.0 L336.2 344.1 L337.7 343.2 L339.1 342.4 L340.6 341.5 L342.1 340.6 L343.6 339.8 L345.1 338.9 L346.6 338.1 L348.1 337.3 L349.6 336.4 L351.1 335.6 L352.7 334.8 L354.2 334.0 L355.7 333.3 L357.3 332.5 L358.8 331.7 L360.3 330.9 L361.9 330.2 L363.4 329.4 L364.9 328.6 L366.4 327.8 L368.0 327.0 L369.5 326.2 L371.0 325.4 L372.6 324.6 L374.1 323.8 L375.6 323.0 L377.1 322.2 L378.6 321.4 L380.1 320.5 L381.6 319.7 L383.1 318.8 L384.5 317.9 L386.0 317.0 L387.5 316.1 L388.9 315.2 L390.4 314.3 L391.8 313.4 L393.3 312.4 L394.8 311.5 L396.2 310.6 L397.7 309.8 L399.2 308.9 L400.7 308.1 L402.2 307.2 L403.7 306.4 L405.2 305.6 L406.8 304.8 L408.3 304.0 L409.8 303.2 L411.4 302.5 L412.9 301.7 L414.4 300.9 L416.0 300.2 L417.5 299.4 L419.1 298.6 L420.6 297.9 L422.1 297.1 L423.7 296.3 L425.2 295.5 L426.7 294.7 L428.2 293.9 L429.8 293.1 L431.3 292.3 L432.8 291.5 L434.3 290.7 L435.8 289.9 L437.4 289.1 L438.9 288.3 L440.4 287.5 L441.9 286.7 L443.5 285.9 L445.0 285.1 L446.5 284.3 L448.0 283.5 L449.5 282.6 L451.0 281.7 L452.4 280.9 L453.9 280.0 L455.4 279.1 L456.9 278.2 L458.3 277.3 L459.8 276.4 L461.2 275.4 L462.7 274.5 L464.1 273.6 L465.6 272.6 L467.0 271.7 L468.5 270.8 L469.9 269.8 L471.3 268.9 L472.8 268.0 L474.2 267.0 L475.6 266.0 L477.1 265.1 L478.5 264.1 L479.9 263.2 L481.3 262.2 L482.8 261.2 L484.2 260.3 L485.6 259.3 L487.0 258.3 L488.5 257.4 L489.9 256.4 L491.3 255.4 L492.7 254.5 L494.2 253.5 L495.6 252.5 L497.0 251.6 L498.4 250.6 L499.8 249.6 L501.2 248.6 L502.6 247.7 L504.1 246.7 L505.5 245.7 L506.9 244.7 L508.3 243.7 L509.7 242.7 L511.1 241.7 L512.5 240.7 L513.9 239.7 L515.2 238.7 L516.6 237.6 L518.0 236.6 L519.3 235.5 L520.7 234.5 L522.1 233.4 L523.4 232.4 L524.8 231.3 L526.1 230.2 L527.5 229.2 L528.8 228.1 L530.1 227.0 L531.4 225.9 L532.7 224.7 L534.0 223.6 L535.3 222.4 L536.5 221.2 L537.8 220.1 L539.0 218.9 L540.3 217.7 L541.5 216.5 L542.7 215.3 L544.0 214.1 L545.2 212.9 L546.4 211.6 L547.6 210.4 L548.8 209.2 L550.0 207.9 L551.1 206.7 L552.3 205.4 L553.5 204.2 L554.6 202.9 L555.8 201.6 L556.9 200.3 L558.1 199.0 L559.2 197.8 L560.3 196.5 L561.5 195.2 L562.6 193.9 L563.8 192.6 L564.9 191.3 L566.1 190.0 L567.2 188.8 L568.4 187.5 L569.5 186.2 L570.7 184.9 L571.9 183.7 L573.0 182.4 L574.2 181.1 L575.3 179.9 L576.5 178.6 L577.7 177.4 L578.9 176.1 L580.0 174.8 L581.2 173.6 L582.4 172.3 L583.6 171.1 L584.8 169.8 L585.9 168.6 L587.1 167.4 L588.3 166.1 L589.5 164.9 L590.7 163.7 L591.9 162.4 L593.1 161.2 L594.3 160.0 L595.5 158.7 L596.7 157.5 L598.0 156.3 L599.2 155.1 L600.4 153.9 L601.6 152.7 L602.8 151.5 L604.1 150.2 L605.3 149.0 L606.5 147.8 L607.8 146.6 L609.0 145.4 L610.2 144.2 L611.5 143.1 L612.7 141.9 L614.0 140.7 L615.2 139.5 L616.5 138.3 L617.7 137.1 L619.0 136.0 L620.2 134.8 L621.5 133.6 L622.8 132.5 L624.0 131.3 L625.3 130.2 L626.6 129.0 L627.9 127.9 L629.2 126.7 L630.5 125.6 L631.8 124.5 L633.1 123.4 L634.4 122.2 L635.7 121.1 L637.1 120.0 L638.4 119.0 L639.8 118.0 L641.2 117.0 L642.7 116.1 L644.2 115.3 L645.9 114.7 L647.5 114.4 L649.2 114.9 L650.4 115.9 L651.3 117.6 L651.7 119.2 L652.1 120.9 L652.4 122.6 L652.7 124.3 L653.1 126.0 L653.4 127.7 L653.8 129.3 L654.4 130.9 L655.0 132.5 L655.7 134.1 L656.5 135.6 L657.4 137.1 L658.4 138.6 L659.4 139.9 L660.5 141.3 L661.6 142.6 L662.8 143.8 L664.1 144.9 L665.5 146.0 L666.9 147.0 L668.3 147.9 L669.8 148.8" stroke="#ff0000" stroke-width="3.30"/>
<path d="M112.4 461.7 L114.4 460.7 L116.3 459.6 L118.3 458.6 L120.2 457.6 L122.2 456.5 L124.1 455.5 L126.1 454.5 L128.0 453.4 L130.0 452.4 L132.0 451.4 L133.9 450.4 L135.9 449.3 L137.8 448.3 L139.8 447.3 L141.8 446.2 L143.7 445.2 L145.7 444.2 L147.6 443.2 L149.6 442.1 L151.5 441.1 L153.5 440.1 L155.5 439.1 L157.4 438.0 L159.4 437.0 L161.3 436.0 L163.3 435.0 L165.3 433.9 L167.2 432.9 L169.2 431.9 L171.2 430.9 L173.1 429.9 L175.1 428.8 L177.0 427.8 L179.0 426.8 L181.0 425.8 L182.9 424.8 L184.9 423.7 L186.8 422.7 L188.8 421.7 L190.8 420.7 L192.7 419.7 L194.7 418.6 L196.7 417.6 L198.6 416.6 L200.6 415.6 L202.6 414.6 L204.5 413.6 L206.5 412.5 L208.4 411.5 L210.4 410.5 L212.4 409.5 L214.3 408.5 L216.3 407.5 L218.3 406.5 L220.2 405.4 L222.2 404.4 L224.2 403.4 L226.1 402.4 L228.1 401.4 L230.1 400.4 L232.0 399.4 L234.0 398.4 L236.0 397.4 L237.9 396.4 L239.9 395.3 L241.9 394.3 L243.9 393.3 L245.8 392.3 L247.8 391.3 L249.8 390.3 L251.7 389.3 L253.7 388.3 L255.7 387.3 L257.7 386.3 L259.6 385.3 L261.6 384.3 L263.6 383.3 L265.6 382.3 L267.5 381.3 L269.5 380.3 L271.5 379.3 L273.4 378.3 L275.4 377.3 L277.4 376.3 L279.4 375.3 L281.3 374.3 L283.3 373.3 L285.3 372.3 L287.2 371.3 L289.2 370.3 L291.2 369.3 L293.2 368.3 L295.1 367.3 L297.1 366.3 L299.1 365.3 L301.1 364.3 L303.0 363.3 L305.0 362.3 L307.0 361.3 L308.9 360.3 L310.9 359.3 L312.9 358.3 L314.8 357.3 L316.8 356.3 L318.8 355.3 L320.7 354.2 L322.7 353.2 L324.7 352.2 L326.6 351.1 L328.6 350.1 L330.5 349.0 L332.4 348.0 L334.4 346.9 L336.3 345.9 L338.3 344.8 L340.2 343.7 L342.1 342.7 L344.1 341.6 L346.0 340.6 L348.0 339.5 L350.0 338.5 L351.9 337.5 L353.9 336.5 L355.9 335.6 L357.9 334.6 L359.9 333.7 L361.9 332.7 L363.9 331.8 L365.9 330.9 L367.9 329.9 L369.9 329.0 L371.9 328.0 L373.9 327.1 L375.9 326.1 L377.9 325.1 L379.8 324.1 L381.8 323.1 L383.7 322.0 L385.6 320.9 L387.5 319.8 L389.4 318.6 L391.4 317.5 L393.3 316.4 L395.2 315.3 L397.1 314.2 L399.1 313.2 L401.1 312.2 L403.1 311.3 L405.1 310.4 L407.1 309.4 L409.0 308.4 L411.0 307.3 L412.9 306.3 L414.9 305.4 L416.9 304.4 L418.9 303.5 L420.9 302.5 L422.8 301.4 L424.8 300.4 L426.8 299.4 L428.8 298.5 L430.8 297.5 L432.8 296.6 L434.8 295.8 L436.9 294.9 L438.9 293.9 L440.8 292.9 L442.7 291.7 L444.6 290.6 L446.5 289.4 L448.4 288.2 L450.3 287.1 L452.2 286.1 L454.2 285.2 L456.3 284.3 L458.3 283.5 L460.4 282.7 L462.5 281.9 L464.5 281.1 L466.6 280.3 L468.6 279.5 L470.7 278.6 L472.7 277.7 L474.7 276.7 L476.7 275.8 L478.6 274.7 L480.5 273.6 L482.5 272.6 L484.5 271.7 L486.5 270.8 L488.6 270.0 L490.6 269.0 L492.6 268.1 L494.6 267.1 L496.6 266.1 L498.5 265.1 L500.5 264.1 L502.4 263.0 L504.4 262.0 L506.4 261.1 L508.4 260.1 L510.4 259.3 L512.5 258.5 L514.6 257.7 L516.6 256.9 L518.7 256.1 L520.7 255.2 L522.7 254.2 L524.7 253.2 L526.6 252.1 L528.5 251.1 L530.4 249.9 L532.3 248.7 L534.1 247.4 L535.9 246.1 L537.8 244.9 L539.7 244.0 L541.8 243.2 L543.9 242.3 L545.9 241.4 L547.7 240.2 L549.5 238.9 L551.3 237.6 L553.2 236.4 L555.0 235.2 L556.7 233.7 L558.3 232.2 L560.0 230.7 L561.7 229.5 L563.7 228.4 L565.7 227.4 L567.7 226.5 L569.7 225.6 L571.7 224.7 L573.7 223.8 L575.8 222.9 L577.8 222.0 L579.8 221.2 L581.9 220.5 L584.1 219.9 L586.2 219.3 L588.3 218.7 L590.5 218.2 L592.7 217.8 L594.9 217.5 L597.1 217.2 L599.3 217.1 L601.5 217.0 L603.7 217.0 L605.9 217.0 L608.1 217.1 L610.3 217.4 L612.5 218.0 L614.6 218.5 L616.7 219.2 L618.8 219.9 L620.9 220.8 L622.8 221.8 L624.7 222.9 L626.5 224.2 L628.3 225.6 L629.9 227.0 L631.5 228.6 L633.0 230.3 L634.4 232.0 L635.7 233.8 L636.9 235.6 L638.0 237.5 L639.0 239.5 L639.9 241.5 L640.9 243.5 L641.9 245.5 L643.0 247.4 L644.0 249.4 L644.9 251.4 L645.6 253.5 L646.3 255.6 L646.9 257.7 L647.5 259.9 L648.1 262.0 L648.6 264.1 L649.2 266.3 L649.6 268.5 L650.1 270.6 L650.5 272.8 L650.9 275.0 L651.3 277.1 L651.6 279.3 L651.9 281.5 L652.2 283.7 L652.5 285.9 L652.8 288.1 L653.1 290.3 L653.4 292.5 L653.7 294.7 L653.9 296.9 L654.1 299.1 L654.3 301.3 L654.5 303.5 L654.7 305.7 L655.0 307.9 L655.2 310.1 L655.4 312.3 L655.7 314.5 L656.0 316.7 L656.2 318.9 L656.5 321.1 L656.7 323.3 L657.0 325.5 L657.2 327.7 L657.4 329.9 L657.6 332.1 L657.9 334.3 L658.2 336.4 L658.6 338.6 L659.0 340.8 L659.3 343.0 L659.6 345.2 L659.9 347.4 L660.1 349.6 L660.4 351.8 L660.6 354.0 L660.8 356.2 L661.0 358.4 L661.2 360.6 L661.5 362.8 L661.7 365.0 L661.9 367.2 L662.1 369.4 L662.3 371.6 L662.6 373.8 L662.8 376.0 L663.0 378.2 L663.2 380.4 L663.4 382.6 L663.6 384.8 L663.8 387.0 L663.9 389.2 L664.1 391.4 L664.2 393.6 L664.4 395.8 L664.5 398.0 L664.6 400.2 L664.7 402.4 L664.8 404.6 L665.0 406.9 L665.1 409.1 L665.2 411.3 L665.2 413.5 L665.3 415.7 L665.4 417.9 L665.5 420.1 L665.6 422.3 L665.7 424.5 L665.7 426.7 L665.8 429.0 L666.0 431.2 L666.1 433.4 L666.2 435.6 L666.3 437.8 L666.5 440.0 L666.6 442.2 L666.7 444.4 L666.8 446.6 L666.9 448.8 L667.0 451.0 L667.1 453.2 L667.2 455.5 L667.3 457.7 L667.3 459.9 L667.4 462.1 L667.5 464.3 L667.5 466.5 L667.6 468.7 L667.7 470.9 L667.8 473.1 L667.8 475.4 L667.9 477.6 L667.9 479.8 L668.0 482.0 L668.0 484.2 L668.1 486.4 L668.1 488.6 L668.2 490.8 L668.2 493.0 L668.2 495.3 L668.2 497.5 L668.3 499.7 L668.3 501.9 L668.3 504.1 L668.4 506.3 L668.4 508.5 L668.5 510.7 L668.5 512.9 L668.5 515.2 L668.6 517.4 L668.6 519.6 L668.7 521.8 L668.7 524.0" stroke="#ff0000" stroke-width="2.70" stroke-dasharray="2.70 4.46" stroke-dashoffset="3.5"/>
</g>
<rect x="112.40" y="30.00" width="675.60" height="488.00" fill="none" stroke="#000" stroke-width="4.00"/>
<g class="t"><rect x="96.60" y="535.38" width="17.00" height="1.45" fill="#000"/><text x="116.40" y="543.90" font-size="29.8" textLength="14.0" lengthAdjust="spacingAndGlyphs">3</text><rect x="265.50" y="535.38" width="17.00" height="1.45" fill="#000"/><text x="285.30" y="543.90" font-size="29.8" textLength="14.0" lengthAdjust="spacingAndGlyphs">2</text><rect x="434.40" y="535.38" width="17.00" height="1.45" fill="#000"/><text x="454.20" y="543.90" font-size="29.8" textLength="14.0" lengthAdjust="spacingAndGlyphs">1</text><text x="612.10" y="543.90" font-size="29.8" textLength="14.0" lengthAdjust="spacingAndGlyphs">0</text><text x="781.00" y="543.90" font-size="29.8" textLength="14.0" lengthAdjust="spacingAndGlyphs">1</text><text x="92.60" y="39.70" font-size="29.8" textLength="14.0" lengthAdjust="spacingAndGlyphs">2</text><text x="92.60" y="128.43" font-size="29.8" textLength="14.0" lengthAdjust="spacingAndGlyphs">0</text><text x="92.60" y="217.15" font-size="29.8" textLength="14.0" lengthAdjust="spacingAndGlyphs">2</text><rect x="72.90" y="209.13" width="16.70" height="1.45" fill="#000"/><text x="92.60" y="305.88" font-size="29.8" textLength="14.0" lengthAdjust="spacingAndGlyphs">4</text><rect x="72.90" y="297.86" width="16.70" height="1.45" fill="#000"/><text x="92.60" y="394.61" font-size="29.8" textLength="14.0" lengthAdjust="spacingAndGlyphs">6</text><rect x="72.90" y="386.58" width="16.70" height="1.45" fill="#000"/><text x="92.60" y="483.34" font-size="29.8" textLength="14.0" lengthAdjust="spacingAndGlyphs">8</text><rect x="72.90" y="475.31" width="16.70" height="1.45" fill="#000"/></g>
<g class="t"><text x="379.50" y="574.60" font-size="31.4" textLength="35.5" lengthAdjust="spacingAndGlyphs">log</text><text x="416.30" y="582.30" font-size="22.4" textLength="20.8" lengthAdjust="spacingAndGlyphs" class="s">10</text><text x="439.60" y="575.40" font-size="34.5" textLength="9.8" lengthAdjust="spacingAndGlyphs" class="p">(</text><text x="450.20" y="574.30" font-size="30.6" textLength="15.6" lengthAdjust="spacingAndGlyphs" class="i">k</text><line x1="468.9" y1="582.4" x2="480.0" y2="551.7" stroke="#000" stroke-width="1.25"/><text x="483.40" y="574.30" font-size="30.6" textLength="15.6" lengthAdjust="spacingAndGlyphs" class="i">k</text><line x1="504.00" y1="569.70" x2="504.00" y2="578.30" stroke="#000" stroke-width="1.10" stroke-linecap="round"/><line x1="500.28" y1="571.85" x2="507.72" y2="576.15" stroke="#000" stroke-width="1.10" stroke-linecap="round"/><line x1="500.28" y1="576.15" x2="507.72" y2="571.85" stroke="#000" stroke-width="1.10" stroke-linecap="round"/><text x="510.90" y="575.40" font-size="34.5" textLength="9.8" lengthAdjust="spacingAndGlyphs" class="p">)</text></g>
<g class="t" transform="translate(45.6,367.8) rotate(-90)"><text x="0.00" y="0.30" font-size="31.4" textLength="35.5" lengthAdjust="spacingAndGlyphs">log</text><text x="37.60" y="8.90" font-size="22.4" textLength="20.4" lengthAdjust="spacingAndGlyphs" class="s">10</text><text x="64.20" y="0.00" font-size="33.0" textLength="21.4" lengthAdjust="spacingAndGlyphs" class="om">&#937;</text><text x="89.20" y="-11.20" font-size="21.6" textLength="14.0" lengthAdjust="spacingAndGlyphs" class="s">st</text><rect x="105.3" y="-17.6" width="13.2" height="1.1" fill="#000"/><text x="120.30" y="-11.20" font-size="21.6" textLength="28.8" lengthAdjust="spacingAndGlyphs" class="s">ind</text><text x="89.60" y="11.30" font-size="21.6" textLength="36.0" lengthAdjust="spacingAndGlyphs" class="s">GW</text><text x="127.30" y="11.30" font-size="21.6" textLength="5.0" lengthAdjust="spacingAndGlyphs" class="s">,</text><text x="132.90" y="11.30" font-size="21.6" textLength="8.9" lengthAdjust="spacingAndGlyphs" class="s">c</text><text x="143.60" y="11.30" font-size="21.6" textLength="5.0" lengthAdjust="spacingAndGlyphs" class="s">,</text><text x="149.30" y="11.30" font-size="21.6" textLength="13.3" lengthAdjust="spacingAndGlyphs" class="s">R</text><line x1="164.7" y1="17.3" x2="174.6" y2="-3.7" stroke="#000" stroke-width="1.1"/><text x="176.40" y="11.30" font-size="21.6" textLength="12.2" lengthAdjust="spacingAndGlyphs" class="s">L</text></g>
<rect x="126.7" y="43.9" width="176.3" height="126.6" rx="5.6" ry="5.6" fill="#fff" fill-opacity="0.8" stroke="#cccccc" stroke-opacity="0.8" stroke-width="1.7"/>
<line x1="135.9" y1="64.9" x2="167.9" y2="64.9" stroke="#0000ff" stroke-width="4.20"/>
<line x1="135.9" y1="104.3" x2="167.9" y2="104.3" stroke="#008000" stroke-width="4.00"/>
<line x1="135.9" y1="143.6" x2="167.9" y2="143.6" stroke="#ff0000" stroke-width="3.30"/>
<g class="t"><text x="188.60" y="75.30" font-size="26.2" textLength="17.0" lengthAdjust="spacingAndGlyphs" class="i">&#963;</text><rect x="214.30" y="64.50" width="18.70" height="1.30" fill="#000"/><rect x="214.30" y="69.00" width="18.70" height="1.30" fill="#000"/><text x="242.30" y="75.70" font-size="29.8" textLength="35.4" lengthAdjust="spacingAndGlyphs">0.1</text><text x="188.60" y="114.70" font-size="26.2" textLength="17.0" lengthAdjust="spacingAndGlyphs" class="i">&#963;</text><rect x="214.30" y="103.90" width="18.70" height="1.30" fill="#000"/><rect x="214.30" y="108.40" width="18.70" height="1.30" fill="#000"/><text x="242.30" y="115.10" font-size="29.8" textLength="48.7" lengthAdjust="spacingAndGlyphs">0.01</text><text x="188.80" y="154.30" font-size="30.4" textLength="66.8" lengthAdjust="spacingAndGlyphs">Dirac</text><text x="259.60" y="154.30" font-size="30.0" textLength="12.8" lengthAdjust="spacingAndGlyphs" class="i">&#948;</text></g>
<rect x="686.1" y="43.9" width="88.0" height="87.2" rx="5.6" ry="5.6" fill="#fff" fill-opacity="0.8" stroke="#cccccc" stroke-opacity="0.8" stroke-width="1.7"/>
<line x1="695.8" y1="65" x2="720.8" y2="65" stroke="#0000ff" stroke-width="4.50"/>
<line x1="697.4" y1="104.3" x2="720.8" y2="104.3" stroke="#0000ff" stroke-width="4.20" stroke-dasharray="3.7 5.8"/>
<g class="t"><text x="742.40" y="75.30" font-size="30.8" textLength="21.0" lengthAdjust="spacingAndGlyphs" class="i">R</text><text x="742.40" y="114.70" font-size="30.8" textLength="17.6" lengthAdjust="spacingAndGlyphs" class="i">L</text></g>
</svg></body></html>
